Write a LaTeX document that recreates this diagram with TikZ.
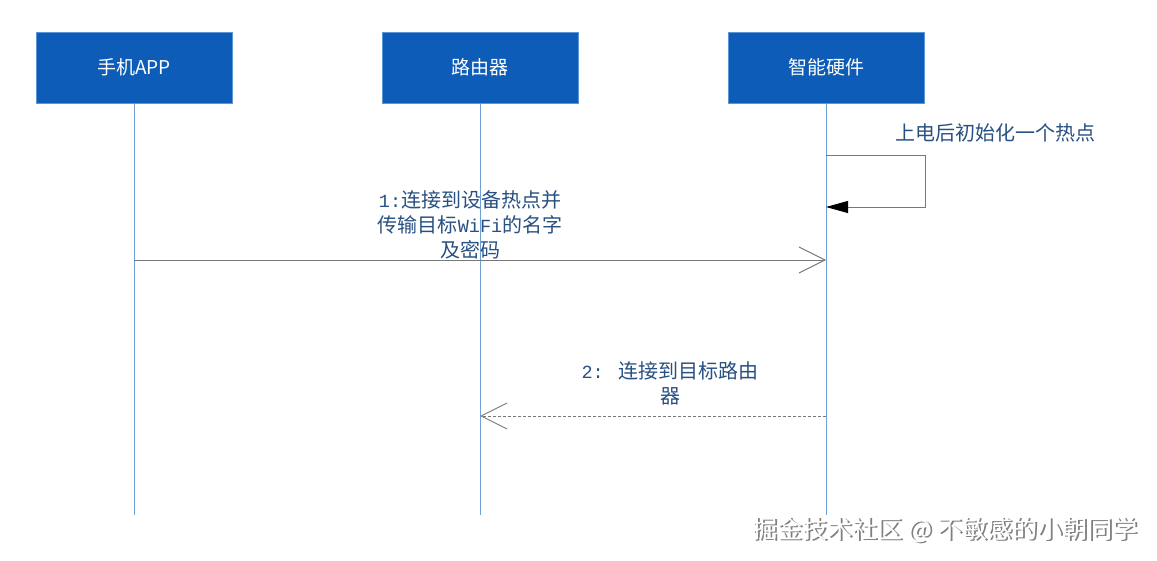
\documentclass[tikz,border=0pt]{standalone}
\usepackage{fontspec}
\setmainfont{Noto Sans CJK SC}
\newfontfamily\monolat{Liberation Mono}
\usetikzlibrary{arrows.meta}
\definecolor{boxblue}{RGB}{12,92,184}
\definecolor{boxedge}{RGB}{90,150,215}
\definecolor{lifeblue}{RGB}{110,160,215}
\definecolor{msggray}{RGB}{120,120,120}
\definecolor{txtblue}{RGB}{40,80,130}
\newcommand{\mlat}[1]{{\monolat\fontsize{18.5}{25}\selectfont #1}}
\begin{document}
\begin{tikzpicture}[x=1pt,y=-1pt,
  actor/.style={draw=boxedge, fill=boxblue, minimum width=196pt, minimum height=71pt,
    inner sep=0pt, text=white, font=\fontsize{19}{22}\selectfont},
  lifeline/.style={draw=lifeblue, line width=0.9pt},
  msg/.style={draw=msggray, line width=0.9pt},
  openhead/.style={-{Straight Barb[length=26pt,width=26pt]}},
  lbl/.style={text=txtblue, font=\fontsize{20}{25}\selectfont, align=center, inner sep=0pt},
  wmark/.style={anchor=east, inner sep=0pt, font=\fontsize{25}{25}\selectfont}]
\useasboundingbox (0,0) rectangle (1157,561);
\fill[white] (0,0) rectangle (1157,561);
% actors
\node[actor] (app) at (134,67.5) {手机APP};
\node[actor] (router) at (480,67.5) {路由器};
\node[actor] (dev) at (826,67.5) {智能硬件};
% lifeline ends
\coordinate (appEnd) at (134,515);
\coordinate (routerEnd) at (480,515);
\coordinate (devEnd) at (826,515);
\draw[lifeline] (app.south) -- (appEnd);
\draw[lifeline] (router.south) -- (routerEnd);
\draw[lifeline] (dev.south) -- (devEnd);
% self message
\coordinate (s1) at (826,155);
\coordinate (s2) at (826,207);
\draw[msg, -{Triangle[length=22pt,width=12pt,color=black]}] (s1) -- ++(99,0) |- (s2);
\node[lbl, anchor=west] (selfl) at (895,133) {上电后初始化一个热点};
% message 1
\coordinate (m1a) at (134,260);
\coordinate (m1b) at (826,260);
\draw[msg, openhead] (m1a) -- (m1b);
\node[lbl] (l1) at (470,225) {\mlat{1:}连接到设备热点并\\传输目标\mlat{WiFi}的名字\\及密码};
% message 2
\coordinate (m2a) at (826,416);
\coordinate (m2b) at (480,416);
\draw[msg, openhead, dash pattern=on 3pt off 2pt] (m2a) -- (m2b);
\node[lbl] (l2) at (670,383) {\mlat{2: }连接到目标路由\\器};
% watermark
\node[wmark, text=black!50] (wmshadow) at (1139.5,531.5) {掘金技术社区 @ 不敏感的小朝同学};
\node[wmark, text=white] (wm) at (1138,530) {掘金技术社区 @ 不敏感的小朝同学};
\end{tikzpicture}
\end{document}
